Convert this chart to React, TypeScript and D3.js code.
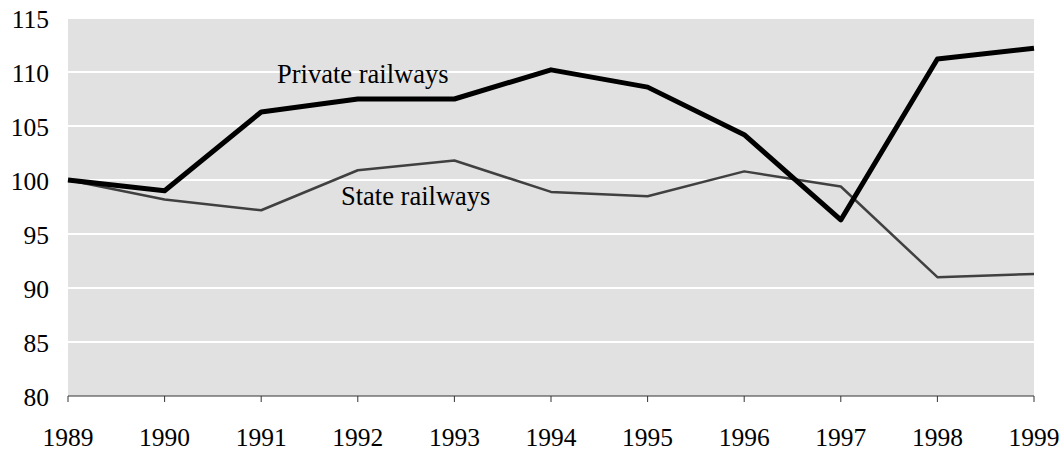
import React from "react";
import * as d3 from "d3";

const years = ["1989", "1990", "1991", "1992", "1993", "1994", "1995", "1996", "1997", "1998", "1999"];
const privateRailways = [100, 99.0, 106.3, 107.5, 107.5, 110.2, 108.6, 104.2, 96.3, 111.2, 112.2];
const stateRailways = [100, 98.2, 97.2, 100.9, 101.8, 98.9, 98.5, 100.8, 99.4, 91.0, 91.3];
const yTicks = [80, 85, 90, 95, 100, 105, 110, 115];

const W = 1062;
const H = 452;
const margin = { top: 18, right: 28, bottom: 56, left: 68 };
const FONT = "'Liberation Serif', 'Times New Roman', serif";

const App = () => {
  const x = d3
    .scalePoint<string>()
    .domain(years)
    .range([margin.left, W - margin.right]);
  const y = d3
    .scaleLinear()
    .domain([80, 115])
    .range([H - margin.bottom, margin.top]);

  const line = d3
    .line<number>()
    .x((_, i) => x(years[i]) as number)
    .y((d) => y(d));

  const x0 = margin.left;
  const x1 = W - margin.right;
  const yBottom = y(80);

  return (
    <svg
      width={W}
      height={H}
      style={{ position: "absolute", left: 0, top: 0 }}
      fontFamily={FONT}
    >
      <rect x={x0} y={y(115)} width={x1 - x0} height={yBottom - y(115)} fill="#e1e1e1" />
      {yTicks.slice(1).map((t) => (
        <line key={t} x1={x0} x2={x1} y1={y(t)} y2={y(t)} stroke="#fff" strokeWidth={2} />
      ))}
      {/* axis */}
      <line x1={x0} x2={x1} y1={yBottom} y2={yBottom} stroke="#333" strokeWidth={1} />
      {years.map((yr) => (
        <line
          key={yr}
          x1={x(yr)}
          x2={x(yr)}
          y1={yBottom}
          y2={yBottom + 6}
          stroke="#333"
          strokeWidth={1}
        />
      ))}
      {yTicks.map((t) => (
        <text key={t} x={49} y={y(t) + 9.5} textAnchor="end" fontSize={25.5} fill="#000">
          {t}
        </text>
      ))}
      {years.map((yr) => (
        <text key={yr} x={x(yr)} y={446} textAnchor="middle" fontSize={25.5} fill="#000">
          {yr}
        </text>
      ))}
      <path d={line(stateRailways) || ""} fill="none" stroke="#404040" strokeWidth={2.5} strokeLinejoin="round" />
      <path d={line(privateRailways) || ""} fill="none" stroke="#000" strokeWidth={5} strokeLinejoin="round" />
      <text x={277} y={83} fontSize={26.5} fill="#000">Private railways</text>
      <text x={341} y={205} fontSize={26.5} fill="#000">State railways</text>
    </svg>
  );
};

export default App;
